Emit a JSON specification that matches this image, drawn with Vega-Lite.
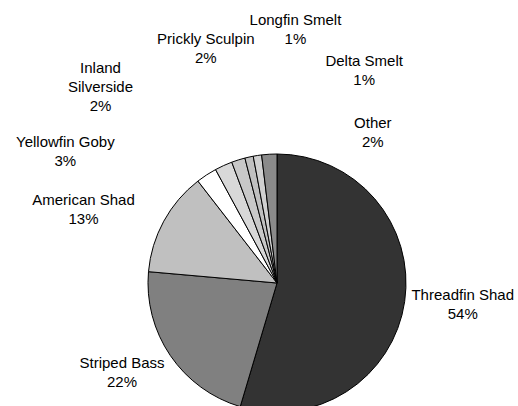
{
  "$schema": "https://vega.github.io/schema/vega-lite/v6.json",
  "width": 518,
  "height": 406,
  "autosize": {"type": "none"},
  "padding": {"left": 18, "top": 80, "right": -18, "bottom": -80},
  "background": "white",
  "view": {"stroke": null},
  "data": {
    "values": [
      {"rank": 1, "species": "Threadfin Shad", "value": 54.6, "label": "Threadfin Shad\n54%"},
      {"rank": 2, "species": "Striped Bass", "value": 21.8, "label": "Striped Bass\n22%"},
      {"rank": 3, "species": "American Shad", "value": 13.1, "label": "American Shad\n13%"},
      {"rank": 4, "species": "Yellowfin Goby", "value": 2.6, "label": "Yellowfin Goby\n3%"},
      {"rank": 5, "species": "Inland Silverside", "value": 2.2, "label": "Inland\nSilverside\n2%"},
      {"rank": 6, "species": "Prickly Sculpin", "value": 1.7, "label": "Prickly Sculpin\n2%"},
      {"rank": 7, "species": "Longfin Smelt", "value": 1.05, "label": "Longfin Smelt\n1%"},
      {"rank": 8, "species": "Delta Smelt", "value": 1.05, "label": "Delta Smelt\n1%"},
      {"rank": 9, "species": "Other", "value": 1.9, "label": "Other\n2%"}
    ]
  },
  "encoding": {
    "theta": {"field": "value", "type": "quantitative", "stack": true},
    "order": {"field": "rank", "type": "quantitative"}
  },
  "layer": [
    {
      "mark": {"type": "arc", "outerRadius": 129, "stroke": "#000000", "strokeWidth": 1},
      "encoding": {
        "color": {
          "field": "species",
          "type": "nominal",
          "legend": null,
          "scale": {
            "domain": ["Threadfin Shad", "Striped Bass", "American Shad", "Yellowfin Goby", "Inland Silverside", "Prickly Sculpin", "Longfin Smelt", "Delta Smelt", "Other"],
            "range": ["#333333", "#808080", "#c0c0c0", "#ffffff", "#d8d8d8", "#c8c8c8", "#c0c0c0", "#d0d0d0", "#8a8a8a"]
          }
        }
      }
    },
    {
      "mark": {"type": "text", "radius": 187, "thetaOffset": -0.028, "dy": -9.5, "font": "Liberation Sans", "fontSize": 15, "lineHeight": 19, "lineBreak": "\n", "align": "center", "baseline": "middle", "color": "#000000"},
      "encoding": {"text": {"condition": {"test": "datum.species === 'Threadfin Shad'", "field": "label"}, "value": ""}}
    },
    {
      "mark": {"type": "text", "radius": 179, "thetaOffset": 0.073, "dy": -9.5, "font": "Liberation Sans", "fontSize": 15, "lineHeight": 19, "lineBreak": "\n", "align": "center", "baseline": "middle", "color": "#000000"},
      "encoding": {"text": {"condition": {"test": "datum.species === 'Striped Bass'", "field": "label"}, "value": ""}}
    },
    {
      "mark": {"type": "text", "radius": 207, "thetaOffset": -0.136, "dy": -9.5, "font": "Liberation Sans", "fontSize": 15, "lineHeight": 19, "lineBreak": "\n", "align": "center", "baseline": "middle", "color": "#000000"},
      "encoding": {"text": {"condition": {"test": "datum.species === 'American Shad'", "field": "label"}, "value": ""}}
    },
    {
      "mark": {"type": "text", "radius": 249, "thetaOffset": -0.438, "dy": -9.5, "font": "Liberation Sans", "fontSize": 15, "lineHeight": 19, "lineBreak": "\n", "align": "center", "baseline": "middle", "color": "#000000"},
      "encoding": {"text": {"condition": {"test": "datum.species === 'Yellowfin Goby'", "field": "label"}, "value": ""}}
    },
    {
      "mark": {"type": "text", "radius": 264, "thetaOffset": -0.305, "dy": -19, "font": "Liberation Sans", "fontSize": 15, "lineHeight": 19, "lineBreak": "\n", "align": "center", "baseline": "middle", "color": "#000000"},
      "encoding": {"text": {"condition": {"test": "datum.species === 'Inland Silverside'", "field": "label"}, "value": ""}}
    },
    {
      "mark": {"type": "text", "radius": 245, "thetaOffset": 0.010, "dy": -9.5, "font": "Liberation Sans", "fontSize": 15, "lineHeight": 19, "lineBreak": "\n", "align": "center", "baseline": "middle", "color": "#000000"},
      "encoding": {"text": {"condition": {"test": "datum.species === 'Prickly Sculpin'", "field": "label"}, "value": ""}}
    },
    {
      "mark": {"type": "text", "radius": 254, "thetaOffset": 0.291, "dy": -9.5, "font": "Liberation Sans", "fontSize": 15, "lineHeight": 19, "lineBreak": "\n", "align": "center", "baseline": "middle", "color": "#000000"},
      "encoding": {"text": {"condition": {"test": "datum.species === 'Longfin Smelt'", "field": "label"}, "value": ""}}
    },
    {
      "mark": {"type": "text", "radius": 230, "thetaOffset": 0.541, "dy": -9.5, "font": "Liberation Sans", "fontSize": 15, "lineHeight": 19, "lineBreak": "\n", "align": "center", "baseline": "middle", "color": "#000000"},
      "encoding": {"text": {"condition": {"test": "datum.species === 'Delta Smelt'", "field": "label"}, "value": ""}}
    },
    {
      "mark": {"type": "text", "radius": 178, "thetaOffset": 0.628, "dy": -9.5, "font": "Liberation Sans", "fontSize": 15, "lineHeight": 19, "lineBreak": "\n", "align": "center", "baseline": "middle", "color": "#000000"},
      "encoding": {"text": {"condition": {"test": "datum.species === 'Other'", "field": "label"}, "value": ""}}
    }
  ]
}
